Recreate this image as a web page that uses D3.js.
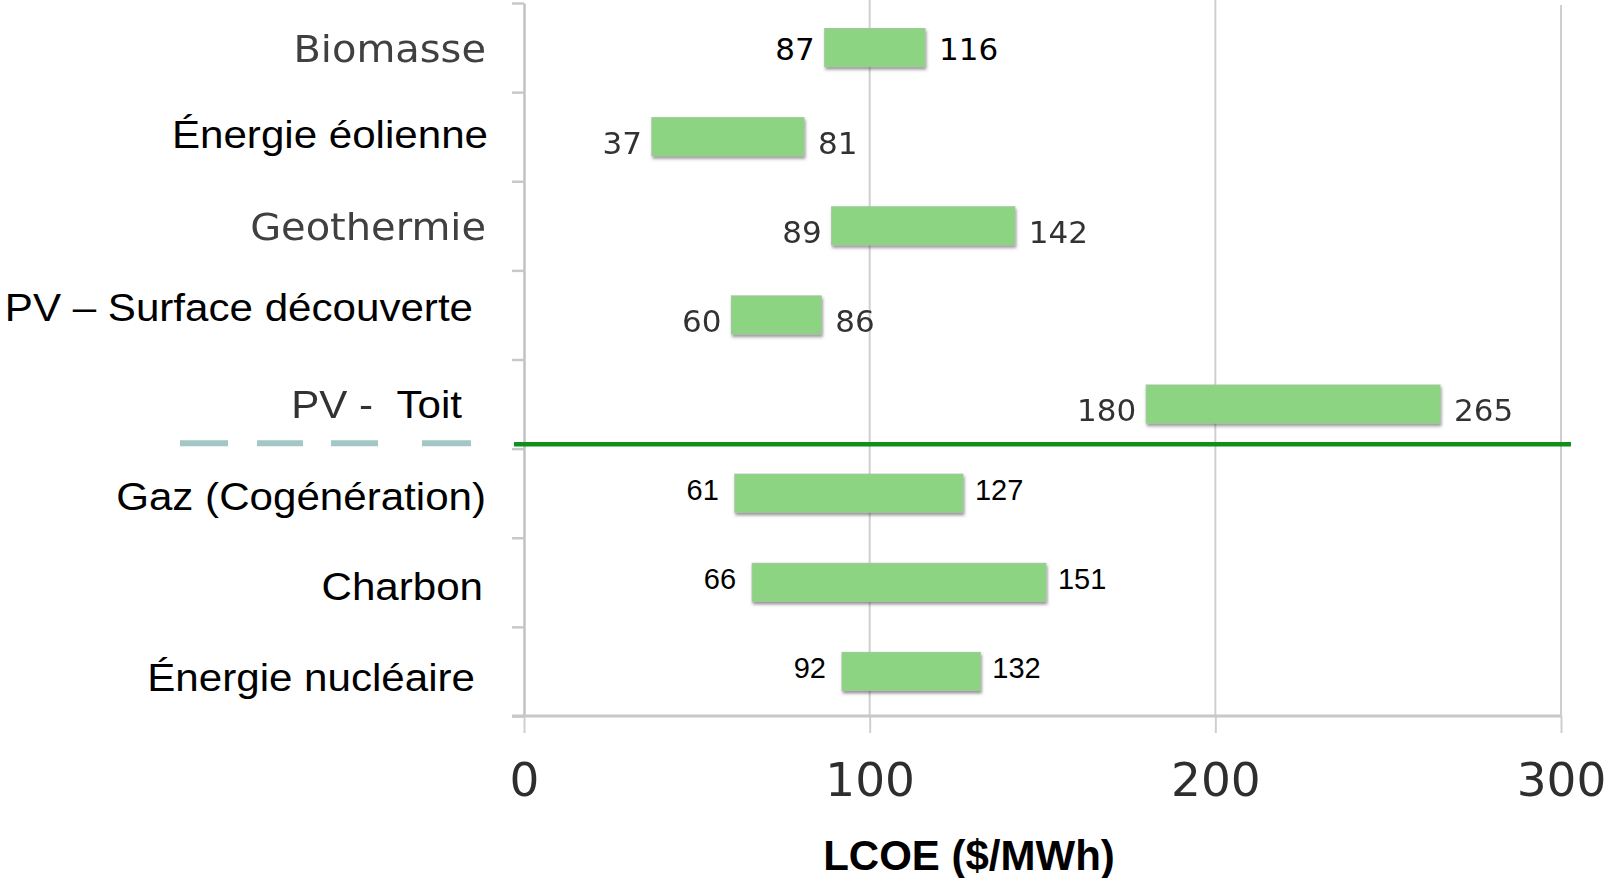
<!DOCTYPE html>
<html>
<head>
<meta charset="utf-8">
<script src="https://cdn.jsdelivr.net/npm/d3@7"></script>
<style>
  body { margin: 0; background: #fff; }
  svg { display: block; }
</style>
</head>
<body>
<div id="chart"></div>
<script>
// data
var categories = ['Biomasse', 'Énergie éolienne', 'Geothermie', 'PV – Surface découverte',
                  'PV -  Toit', 'Gaz (Cogénération)', 'Charbon', 'Énergie nucléaire']
var lowValues  = [87, 37, 89, 60, 180, 61, 66, 92]
var highValues = [116, 81, 142, 86, 265, 127, 151, 132]
var xTicks = [0, 100, 200, 300]
var axisTitle = 'LCOE ($/MWh)'

// how each row was typeset in the original slide
var labelKind = ['pale', 'crisp', 'pale', 'crisp', 'mixed', 'crisp', 'crisp', 'crisp']
var valueKind = ['dark', 'pale', 'pale', 'pale', 'pale', 'arial', 'arial', 'arial']

// small nudges of the category labels (hand placed text boxes)
var labelNudge = {
  'Énergie éolienne': [2, -3],
  'PV – Surface découverte': [-13, -8],
  'PV -  Toit': [-24, 0],
  'Gaz (Cogénération)': [0, 3],
  'Charbon': [-3, 4],
  'Énergie nucléaire': [-11, 6]
}

var width = 1606
var height = 878

var svg = d3.select('#chart').append('svg')
    .attr('width', width)
    .attr('height', height)

var defs = svg.append('defs')
var shadow = defs.append('filter').attr('id', 'shadow')
    .attr('x', '-5%').attr('y', '-20%').attr('width', '115%').attr('height', '160%')
shadow.append('feDropShadow')
    .attr('dx', 1).attr('dy', 2.5).attr('stdDeviation', 1.6)
    .attr('flood-color', '#404040').attr('flood-opacity', 0.55)
var soft = defs.append('filter').attr('id', 'soft')
soft.append('feGaussianBlur').attr('stdDeviation', 0.7)

// scales
var x = d3.scaleLinear().domain([0, 300]).range([524, 1561])
var y = d3.scaleBand().domain(categories).range([3, 716])
    .paddingInner(0.55).paddingOuter(0.275)
var rows = d3.scaleLinear().domain([0, categories.length]).range([3, 716])

// grid lines
svg.append('g')
    .selectAll('line')
    .data(xTicks.slice(1))
    .enter().append('line')
    .attr('x1', function (d) { return x(d) })
    .attr('x2', function (d) { return x(d) })
    .attr('y1', function (d, i) { return i == 2 ? 5 : 0 })
    .attr('y2', 716)
    .style('stroke', '#cfcfcf')
    .style('stroke-width', 2)

// left axis with ticks between the categories
var yAxis = svg.append('g')
    .attr('transform', 'translate(' + x(0) + ',0)')
    .call(d3.axisLeft(rows).tickValues(d3.range(categories.length + 1))
        .tickSize(12).tickSizeOuter(0).tickFormat(''))
yAxis.select('.domain').style('stroke', '#c2c2c2').style('stroke-width', 2.5)
yAxis.selectAll('.tick line').style('stroke', '#c8c8c8').style('stroke-width', 2.5)

// bottom axis
var xAxis = svg.append('g')
    .attr('transform', 'translate(0,716)')
    .call(d3.axisBottom(x).tickValues(xTicks).tickSize(17).tickPadding(30))
xAxis.select('.domain').remove()
xAxis.selectAll('.tick line').style('stroke', '#cfcfcf').style('stroke-width', 2)
xAxis.selectAll('.tick text')
    .style('font-family', 'DejaVu Sans, Verdana, sans-serif')
    .style('font-size', '47px')
    .style('fill', '#2e2e2e')
    .attr('filter', 'url(#soft)')

svg.append('line')
    .attr('x1', x(0) - 12).attr('x2', x(300))
    .attr('y1', 716).attr('y2', 716)
    .style('stroke', '#c8c8c8')
    .style('stroke-width', 3)

// bars
svg.append('g')
    .selectAll('rect')
    .data(categories)
    .enter().append('rect')
    .attr('x', function (d, i) { return x(lowValues[i]) })
    .attr('width', function (d, i) { return x(highValues[i]) - x(lowValues[i]) })
    .attr('y', function (d) { return y(d) + 1 })
    .attr('height', y.bandwidth() - 2)
    .style('fill', '#8dd482')
    .style('stroke', '#9fc89a')
    .style('stroke-width', 1)
    .attr('filter', 'url(#shadow)')

// value labels
function valueFont(kind) {
  return kind == 'arial' ? 'Liberation Sans, Arial, sans-serif' : 'DejaVu Sans, Verdana, sans-serif'
}
function valueY(d, i) {
  var c = y(d) + y.bandwidth() / 2
  if (valueKind[i] == 'pale') return c + 6
  if (valueKind[i] == 'arial') return c - 4
  return c + 1
}
var labels = svg.append('g')
labels.selectAll('.low')
    .data(categories)
    .enter().append('text')
    .attr('class', 'low')
    .attr('x', function (d, i) { return x(lowValues[i]) - (valueKind[i] == 'arial' ? 16 : 10) })
    .attr('y', valueY)
    .attr('dy', '0.36em')
    .attr('text-anchor', 'end')
    .style('font-family', function (d, i) { return valueFont(valueKind[i]) })
    .style('font-size', function (d, i) { return valueKind[i] == 'arial' ? '29px' : '31px' })
    .style('fill', function (d, i) { return valueKind[i] == 'pale' ? '#333' : '#000' })
    .attr('filter', function (d, i) { return valueKind[i] == 'pale' ? 'url(#soft)' : null })
    .text(function (d, i) { return lowValues[i] })
labels.selectAll('.high')
    .data(categories)
    .enter().append('text')
    .attr('class', 'high')
    .attr('x', function (d, i) { return x(highValues[i]) + (valueKind[i] == 'arial' ? 12 : 14) })
    .attr('y', valueY)
    .attr('dy', '0.36em')
    .style('font-family', function (d, i) { return valueFont(valueKind[i]) })
    .style('font-size', function (d, i) { return valueKind[i] == 'arial' ? '29px' : '31px' })
    .style('fill', function (d, i) { return valueKind[i] == 'pale' ? '#333' : '#000' })
    .attr('filter', function (d, i) { return valueKind[i] == 'pale' ? 'url(#soft)' : null })
    .text(function (d, i) { return highValues[i] })

// category labels
var cat = svg.append('g')
    .selectAll('text')
    .data(categories)
    .enter().append('text')
    .attr('text-anchor', 'end')
    .attr('transform', function (d) {
      var n = labelNudge[d] || [0, 0]
      var cy = y(d) + y.bandwidth() / 2 + 14 + n[1]
      return 'translate(' + (486 + n[0]) + ',' + cy + ') scale(1.08,1)'
    })
cat.filter(function (d, i) { return labelKind[i] == 'pale' })
    .style('font-family', 'DejaVu Sans, Verdana, sans-serif')
    .style('font-size', '37px')
    .style('fill', '#3f3f3f')
    .attr('filter', 'url(#soft)')
    .text(function (d) { return d })
cat.filter(function (d, i) { return labelKind[i] == 'crisp' })
    .style('font-family', 'Liberation Sans, Arial, sans-serif')
    .style('font-size', '39px')
    .style('fill', '#000')
    .text(function (d) { return d })
var mixed = cat.filter(function (d, i) { return labelKind[i] == 'mixed' })
    .style('font-family', 'Liberation Sans, Arial, sans-serif')
    .style('font-size', '39px')
    .style('white-space', 'pre')
mixed.append('tspan')
    .style('fill', '#333')
    .attr('filter', 'url(#soft)')
    .text(function (d) { return d.split('  ')[0] + '  ' })
mixed.append('tspan')
    .style('fill', '#000')
    .text(function (d) { return d.split('  ')[1] })

// separator between renewables and conventional sources
var sepY = rows(5) - 4.5
svg.append('line')
    .attr('x1', 180).attr('x2', 471)
    .attr('y1', sepY - 1).attr('y2', sepY - 1)
    .style('stroke', '#a3c7c5')
    .style('stroke-width', 6)
    .style('stroke-linecap', 'butt')
    .style('stroke-dasharray', '48,29,46,28,47,44,49')
svg.append('line')
    .attr('x1', x(0) - 10).attr('x2', x(300) + 10)
    .attr('y1', sepY).attr('y2', sepY)
    .style('stroke', '#10901a')
    .style('stroke-width', 4.5)

// axis title
svg.append('text')
    .attr('x', 969)
    .attr('y', 870)
    .attr('text-anchor', 'middle')
    .style('font-family', 'Liberation Sans, Arial, sans-serif')
    .style('font-weight', 'bold')
    .style('font-size', '42px')
    .style('fill', '#000')
    .text(axisTitle)
</script>
</body>
</html>
